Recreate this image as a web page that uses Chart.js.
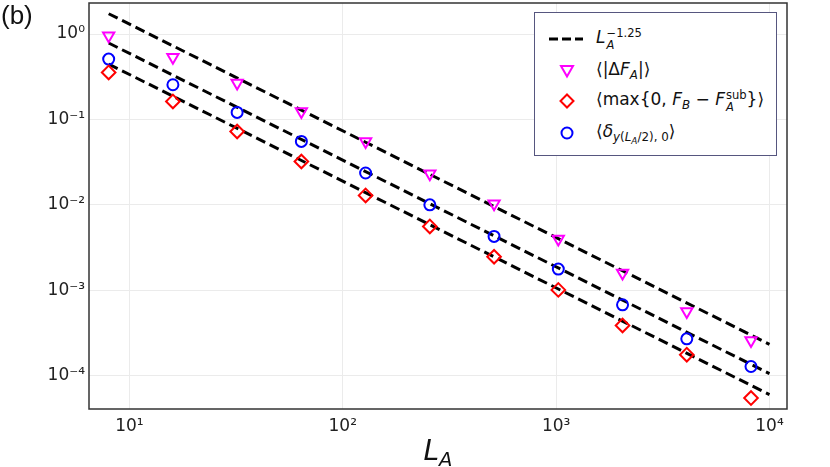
<!DOCTYPE html>
<html lang="en">
<head>
<meta charset="UTF-8">
<title>L_A scaling</title>
<script src="https://cdn.jsdelivr.net/npm/chart.js"></script>
<style>
    body { margin: 0; background: #fff; }
    #wrap { position: relative; width: 830px; height: 467px; font-family: "DejaVu Sans", sans-serif; color: #111; }
    #panel { position: absolute; left: 1px; top: 0px; font: 26px "Liberation Sans", Arial, sans-serif; }
    #xlabel { position: absolute; left: 0; width: 876px; top: 434px; text-align: center; font-size: 28px; }
    #xlabel sub { font-size: 0.7em; vertical-align: -0.3em; }
    #legend { position: absolute; left: 534px; top: 12px; width: 241px; height: 142px; border: 1.5px solid #56567f; background: #fff; font-size: 17px; }
    .row { position: absolute; left: 0; height: 30px; display: flex; align-items: center; white-space: nowrap; }
    .row svg { width: 40px; height: 20px; margin-left: 12px; margin-right: 9px; }
    .ss { display: inline-flex; flex-direction: column; font-size: 0.68em; line-height: 1; vertical-align: 0.5em; margin-left: 1px; }
    .sb { font-size: 0.7em; vertical-align: -0.35em; }
    .sb .sb { font-size: 0.75em; vertical-align: -0.3em; }
</style>
</head>
<body>
<div id="wrap">
    <canvas id="chart" width="830" height="467"></canvas>
    <div id="panel">(b)</div>
    <div id="xlabel"><i>L</i><sub><i>A</i></sub></div>
    <div id="legend">
        <div class="row" style="top:11px">
            <svg viewBox="0 0 40 20"><line x1="2" y1="10" x2="36" y2="10" stroke="#000" stroke-width="3" stroke-dasharray="9 4"/></svg>
            <span><i>L</i><span class="ss"><span>−1.25</span><span><i>A</i></span></span></span>
        </div>
        <div class="row" style="top:43px">
            <svg viewBox="0 0 40 20"><polygon points="14,5 26,5 20,15.5" fill="none" stroke="#ff00ff" stroke-width="2"/></svg>
            <span>⟨|Δ<i>F</i><span class="sb"><i>A</i></span>|⟩</span>
        </div>
        <div class="row" style="top:73px">
            <svg viewBox="0 0 40 20"><polygon points="20,3.5 26.5,10 20,16.5 13.5,10" fill="none" stroke="#ff0000" stroke-width="2"/></svg>
            <span>⟨max{0, <i>F</i><span class="sb"><i>B</i></span> − <i>F</i><span class="ss"><span>sub</span><span><i>A</i></span></span>}⟩</span>
        </div>
        <div class="row" style="top:105px">
            <svg viewBox="0 0 40 20"><circle cx="20" cy="10" r="5.5" fill="none" stroke="#0000ff" stroke-width="2"/></svg>
            <span>⟨<i>δ</i><span class="sb"><i>y</i>(<i>L</i><span class="sb"><i>A</i></span>/2), 0</span>⟩</span>
        </div>
    </div>
</div>
<script>
    // system sizes and measured averages
    const sizes = [8, 16, 32, 64, 128, 256, 512, 1024, 2048, 4096, 8192];
    const deltaF = [0.955, 0.535, 0.267, 0.124, 0.0553, 0.0231, 0.0103, 0.00398, 0.00159, 0.000565, 0.000258];
    const maxGap = [0.355, 0.1625, 0.0723, 0.0322, 0.0129, 0.00559, 0.00247, 0.00101, 0.000387, 0.000176, 0.0000547];
    const deltaY = [0.509, 0.255, 0.121, 0.0553, 0.0236, 0.0100, 0.00427, 0.00177, 0.000676, 0.000270, 0.000128];

    // guide lines L^-1.25, end points
    const fitX = [8, 10000];
    const fitTop = [1.73, 0.000233];
    const fitMid = [0.785, 0.0001057];
    const fitLow = [0.445, 0.0000600];

    const xTicks = [10, 100, 1000, 10000];
    const xTickLabels = ['10¹', '10²', '10³', '10⁴'];
    const yTicks = [1e-4, 1e-3, 1e-2, 1e-1, 1];
    const yTickLabels = ['10⁻⁴', '10⁻³', '10⁻²', '10⁻¹', '10⁰'];

    function pts(xs, ys) {
        return xs.map((x, i) => ({ x: x, y: ys[i] }));
    }

    function fitLine(ys) {
        return {
            type: 'line',
            data: pts(fitX, ys),
            borderColor: '#000',
            borderWidth: 3,
            borderDash: [10, 5],
            pointRadius: 0,
            fill: false,
            order: 1,
        };
    }

    function markers(ys, color, style, radius, rotation) {
        return {
            type: 'scatter',
            data: pts(sizes, ys),
            showLine: false,
            pointStyle: style,
            pointRadius: radius,
            pointRotation: rotation,
            borderColor: color,
            backgroundColor: 'rgba(0,0,0,0)',
            pointBorderWidth: 2,
            order: 0,
        };
    }

    const frame = {
        id: 'frame',
        afterDraw(chart) {
            const a = chart.chartArea;
            const ctx = chart.ctx;
            ctx.save();
            ctx.strokeStyle = '#333';
            ctx.lineWidth = 1.5;
            ctx.strokeRect(a.left, a.top, a.right - a.left, a.bottom - a.top);
            ctx.restore();
        }
    };

    const ctx = document.getElementById('chart').getContext('2d');
    new Chart(ctx, {
        data: {
            datasets: [
                fitLine(fitTop),
                fitLine(fitMid),
                fitLine(fitLow),
                markers(deltaF, '#ff00ff', 'triangle', 6.5, 180),
                markers(maxGap, '#ff0000', 'rectRot', 6.8, 0),
                markers(deltaY, '#0000ff', 'circle', 5.5, 0),
            ]
        },
        plugins: [frame],
        options: {
            responsive: false,
            animation: false,
            layout: { autoPadding: false, padding: { top: 3, right: 43, left: 0, bottom: 0 } },
            plugins: { legend: { display: false }, tooltip: { enabled: false } },
            scales: {
                x: {
                    type: 'logarithmic',
                    min: 6.47,
                    max: 12080,
                    afterBuildTicks: (scale) => { scale.ticks = xTicks.map(v => ({ value: v })); },
                    afterFit: (scale) => {
                        scale.height = 58;
                        scale.paddingLeft = 0;
                        scale.paddingRight = 0;
                    },
                    grid: { color: '#ebebeb', drawTicks: false },
                    border: { display: false },
                    ticks: {
                        padding: 7,
                        maxRotation: 0,
                        autoSkip: false,
                        color: '#222',
                        font: { family: 'DejaVu Sans', size: 17 },
                        callback: (value, i) => xTickLabels[i],
                    },
                },
                y: {
                    type: 'logarithmic',
                    min: 4.07e-5,
                    max: 2.31,
                    afterBuildTicks: (scale) => { scale.ticks = yTicks.map(v => ({ value: v })); },
                    afterFit: (scale) => {
                        scale.width = 89;
                        scale.paddingTop = 0;
                        scale.paddingBottom = 0;
                    },
                    grid: { color: '#ebebeb', drawTicks: false },
                    border: { display: false },
                    ticks: {
                        padding: 4,
                        autoSkip: false,
                        color: '#222',
                        font: { family: 'DejaVu Sans', size: 17 },
                        callback: (value, i) => yTickLabels[i],
                    },
                },
            },
        },
    });
</script>
</body>
</html>
